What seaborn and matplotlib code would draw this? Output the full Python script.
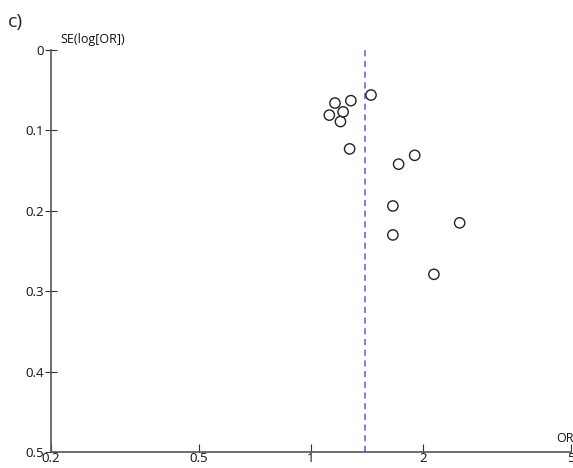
import matplotlib
matplotlib.use("Agg")
import matplotlib.pyplot as plt
import seaborn as sns
import pandas as pd
from matplotlib.ticker import FixedLocator, FixedFormatter, NullLocator

# Data
odds_ratio = [1.45, 1.28, 1.16, 1.22, 1.12, 1.20, 1.27, 1.90, 1.72, 1.66, 2.51, 1.66, 2.14]
se_log_or = [0.056, 0.063, 0.066, 0.077, 0.081, 0.089, 0.123, 0.131, 0.142, 0.194, 0.215, 0.230, 0.279]
pooled_or = 1.40
x_ticks = [0.2, 0.5, 1, 2, 5]
x_tick_labels = ["0.2", "0.5", "1", "2", "5"]
y_ticks = [0, 0.1, 0.2, 0.3, 0.4, 0.5]
y_tick_labels = ["0", "0.1", "0.2", "0.3", "0.4", "0.5"]

df = pd.DataFrame({"OR": odds_ratio, "SE": se_log_or})

sns.set_style("white", {"xtick.bottom": True, "ytick.left": True})
plt.rcParams["font.family"] = ["Open Sans", "DejaVu Sans"]

fig = plt.figure(figsize=(5.73, 4.68), dpi=100)
ax = fig.add_axes([51 / 573, 16 / 468, 520 / 573, 402 / 468])

ax.axvline(pooled_or, color="#5a5ae6", linestyle=(0, (4, 3)), linewidth=1.1, zorder=1)
sns.scatterplot(data=df, x="OR", y="SE", ax=ax, marker="o", s=55,
                facecolor="none", edgecolor="#222222", linewidth=1.0, zorder=3)

ax.set_xscale("log")
ax.set_xlim(0.2, 5)
ax.set_ylim(0.5, 0)
ax.xaxis.set_major_locator(FixedLocator(x_ticks))
ax.xaxis.set_major_formatter(FixedFormatter(x_tick_labels))
ax.xaxis.set_minor_locator(NullLocator())
ax.yaxis.set_major_locator(FixedLocator(y_ticks))
ax.yaxis.set_major_formatter(FixedFormatter(y_tick_labels))

for s in ["top", "right"]:
    ax.spines[s].set_visible(False)
for s in ["left", "bottom"]:
    ax.spines[s].set_color("#555555")
    ax.spines[s].set_linewidth(1.2)

ax.tick_params(axis="x", bottom=True, direction="in", length=6, width=0.8, color="#333333",
               labelsize=9.5, pad=0, labelcolor="#111111")
ax.tick_params(axis="y", left=True, direction="inout", length=8, width=0.8, color="#333333",
               labelsize=9.5, pad=1, labelcolor="#111111")
ax.set_xlabel("")
ax.set_ylabel("")

fig.text(60 / 573, 1 - 40 / 468, "SE(log[OR])", fontsize=9, ha="left", va="center",
         color="#111111")
fig.text(565 / 573, 1 - 439 / 468, "OR", fontsize=9, ha="center", va="center",
         color="#111111")
fig.text(8 / 573, 1 - 22 / 468, "c)", fontsize=14, ha="left", va="center")

fig.savefig("out.png", dpi=100)
